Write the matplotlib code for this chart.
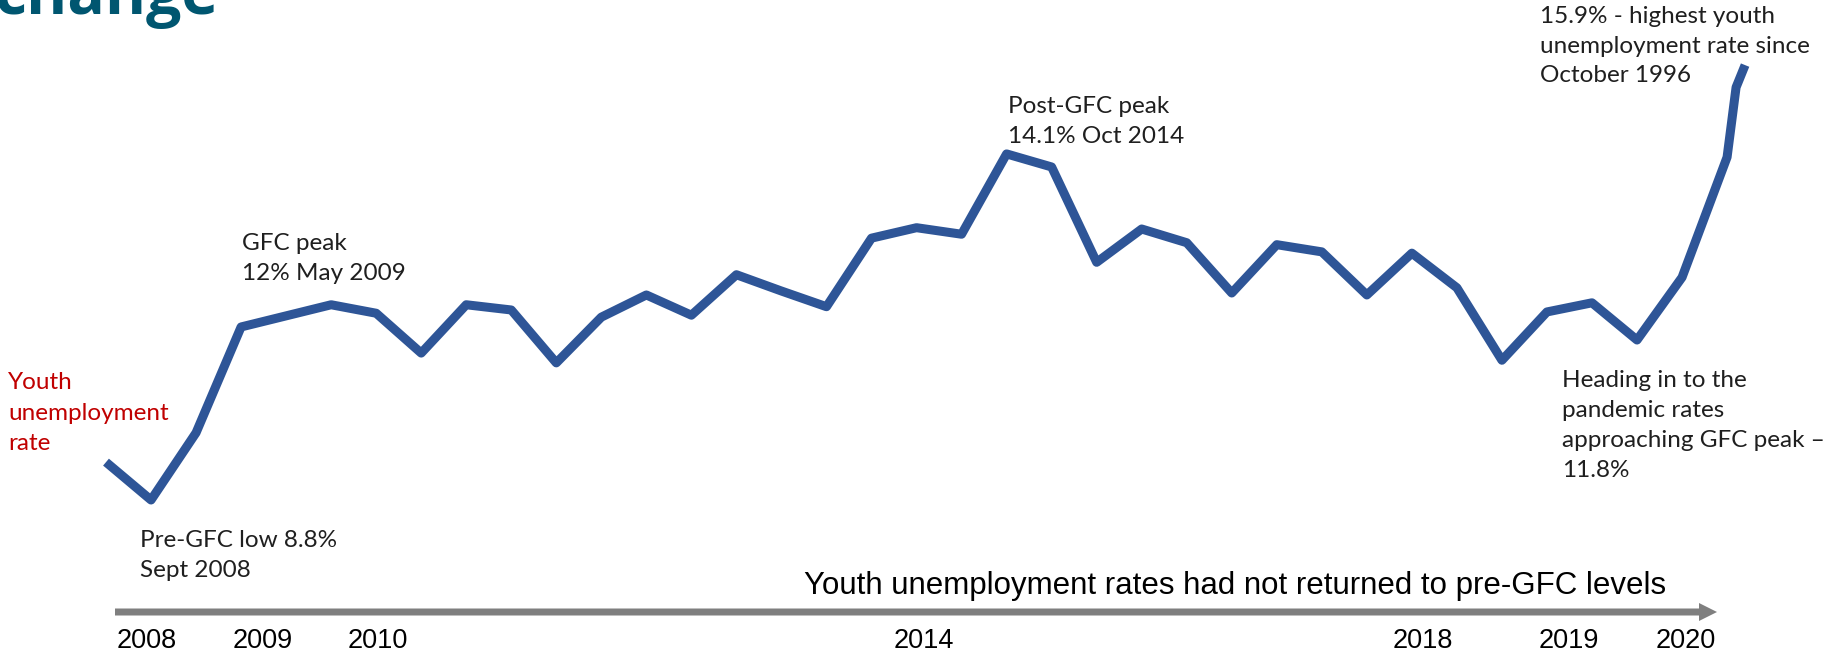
import matplotlib
matplotlib.use("Agg")
import matplotlib.pyplot as plt
from matplotlib.patches import FancyArrow
from matplotlib.transforms import IdentityTransform

# ---------------- data ----------------
periods = list(range(37)) + [36.2, 36.4]
youth_rate = [9.38, 8.8, 9.83, 11.45, 11.62, 11.79, 11.66, 11.05, 11.79, 11.71,
              10.90, 11.60, 11.94, 11.63, 12.25, 12.00, 11.76, 12.81, 12.97, 12.87,
              14.10, 13.90, 12.44, 12.95, 12.74, 11.97, 12.71, 12.60, 11.94, 12.58,
              12.05, 10.94, 11.68, 11.82, 11.25, 12.21, 14.05, 15.12, 15.46]
year_labels = ["2008", "2009", "2010", "2014", "2018", "2019", "2020"]
series_label = ["Youth", "unemployment", "rate"]
note_low = ["Pre-GFC low 8.8%", "Sept 2008"]
note_gfc = ["GFC peak", "12% May 2009"]
note_post = ["Post-GFC peak", "14.1% Oct 2014"]
note_high = ["15.9% - highest youth", "unemployment rate since", "October 1996"]
note_pand = ["Heading in to the", "pandemic rates", "approaching GFC peak \u2013", "11.8%"]
arrow_text = "Youth unemployment rates had not returned to pre-GFC levels"
title_fragment = "change"

# ---------------- layout ----------------
W, H = 1843, 656
fig = plt.figure(figsize=(W / 100, H / 100), dpi=100)
fig.patch.set_facecolor("white")

ax = fig.add_axes([0, 0, 1, 1])
ax.set_xlim(-106 / 45.03, (W - 106) / 45.03)
ax.set_ylim(8.8 - (H - 500) / 65.3, 8.8 + 500 / 65.3)
ax.axis("off")

ax.plot(periods, youth_rate, color="#2E5597", lw=6.5,
        solid_joinstyle="round", solid_capstyle="butt", zorder=3)

def ftxt(x, y_top, s, **kw):
    fig.text(x / W, 1 - y_top / H, s, **kw)

def lines(x, baselines, texts, **kw):
    for b, t in zip(baselines, texts):
        ftxt(x, b, t, va="baseline", ha="left", **kw)

note_kw = dict(family="Lato", fontsize=17.5, color="#1F1F1F")

# clipped title
ftxt(-6, 14, title_fragment, va="baseline", ha="left", family="Open Sans",
     fontweight="bold", fontsize=45, color="#005670")

lines(8, [389, 419.5, 450], series_label, family="Lato", fontsize=17.5, color="#C00000")
lines(140, [547, 577], note_low, **note_kw)
lines(242, [250, 280], note_gfc, **note_kw)
lines(1008, [113, 143], note_post, **note_kw)
lines(1540, [23, 53, 82], note_high, **note_kw)
lines(1562, [387, 417, 447, 477], note_pand, **note_kw)

# timeline arrow
arr = FancyArrow(115, H - 612, 1717 - 115, 0, width=7, head_width=18, head_length=18,
                 length_includes_head=True, color="#7F7F7F", lw=0,
                 transform=IdentityTransform())
fig.add_artist(arr)

ftxt((803 + 1667) / 2, 594, arrow_text, va="baseline", ha="center",
     family="Liberation Sans", fontsize=22.5, color="black")

year_x = [147, 263, 378, 924, 1423, 1569, 1686]
for x, lab in zip(year_x, year_labels):
    ftxt(x, 648, lab, va="baseline", ha="center", family="Liberation Sans",
         fontsize=19.5, color="black")

fig.savefig("out.png", dpi=100, facecolor="white")
